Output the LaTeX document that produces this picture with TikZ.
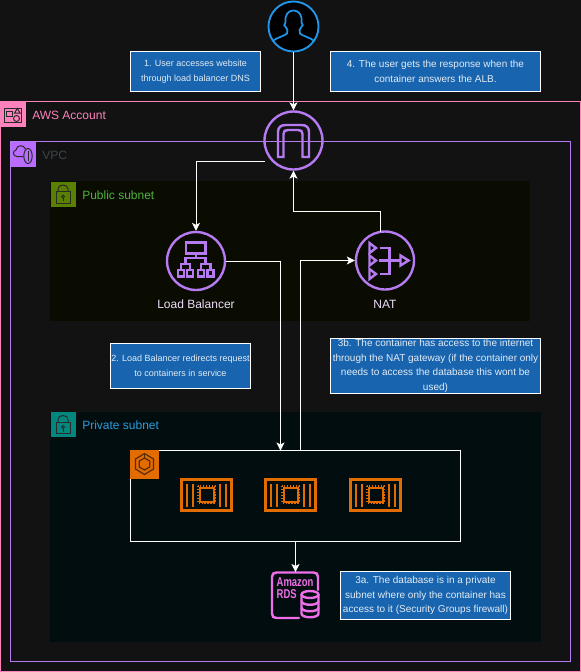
\documentclass[tikz,border=0pt]{standalone}
\usepackage{fontspec}
\setmainfont{Liberation Sans}
\usetikzlibrary{arrows.meta}
\definecolor{bgdark}{HTML}{121212}
\definecolor{pubfill}{HTML}{0A0C02}
\definecolor{privfill}{HTML}{010D0F}
\definecolor{acctpink}{HTML}{FF82BC}
\definecolor{vpcpurple}{HTML}{B67BF2}
\definecolor{vpctile}{HTML}{B96CFF}
\definecolor{vpctext}{HTML}{3A474B}
\definecolor{pubtile}{HTML}{5A8000}
\definecolor{pubtext}{HTML}{4DB33D}
\definecolor{privtile}{HTML}{00887F}
\definecolor{privtext}{HTML}{2D9CDB}
\definecolor{userblue}{HTML}{2196E8}
\definecolor{notefill}{HTML}{1864AE}
\definecolor{ecsorange}{HTML}{E36C00}
\definecolor{rdspink}{HTML}{EE6FE8}
\definecolor{glyphdark}{HTML}{2A2A2A}
\tikzset{
  flowline/.style={draw=white,line width=.75pt,-{Stealth[length=6pt,width=6pt,inset=1.5pt]}},
  notebox/.style={draw=white,fill=notefill,line width=.75pt,inner sep=0pt,outer sep=0pt,align=center,text=white!88!notefill,font=\fontsize{6.75pt}{11pt}\selectfont},
  bignote/.style={notebox,font=\fontsize{7.5pt}{11pt}\selectfont},
  roundicon/.style={circle,draw=vpcpurple,line width=1.8pt,inner sep=0pt,minimum size=43.5pt},
  glyph/.style={draw=vpcpurple,line width=1.8pt},
  taskline/.style={draw=ecsorange,line width=1.5pt},
  rdsline/.style={draw=rdspink,line width=1.8pt},
  rdstext/.style={anchor=west,inner sep=0pt,xscale=.74,text=rdspink,font=\bfseries\fontsize{9.6pt}{10pt}\selectfont},
  grouplabel/.style={anchor=west,inner sep=0pt,font=\fontsize{9pt}{11pt}\selectfont},
  iconlabel/.style={inner sep=0pt,text=white!75!vpcpurple,font=\fontsize{9pt}{11pt}\selectfont},
  tileglyph/.style={draw=glyphdark,line width=.75pt}
}
\begin{document}
\begin{tikzpicture}[x=.75pt,y=-.75pt]
  \useasboundingbox (0,0) rectangle (581,672);
  \fill[bgdark] (0,0) rectangle (581,672);

  % Subnets
  \fill[pubfill] (50,181) rectangle (530,321);
  \fill[privfill] (50,412) rectangle (540.5,641.5);

  % Frames
  \draw[acctpink,line width=.75pt] (0.5,101.5) rectangle (580.5,671);
  \draw[vpcpurple,line width=.75pt] (10.5,141.5) rectangle (570.5,661);

  % Group tiles
  \fill[acctpink] (0,101) rectangle (25.5,126.5);
  \draw[tileglyph] (4.7,108) rectangle (21.3,122.3);
  \draw[tileglyph] (6.7,111.7) rectangle (12,116.7);
  \draw[tileglyph] (17.3,108.4) -- (20,113) -- (14.6,113) -- cycle;
  \draw[tileglyph] (16.5,118.5) circle (3*.75pt);

  \fill[vpctile] (10.5,141.5) rectangle (35.5,166.5);
  \draw[tileglyph] (23,156.5) -- (17,156.5) .. controls (12.5,156.5) and (12.5,150.5) .. (16,150) .. controls (16.5,144.5) and (24,144.5) .. (25.5,149);
  \draw[tileglyph] (28,156) ellipse (4.2*.75pt and 7.5*.75pt);
  \draw[tileglyph] (28,151) -- (28,161);

  \fill[pubtile] (50.5,181.5) rectangle (75.5,206.5);
  \draw[tileglyph] (56,191.7) rectangle (70,203.3);
  \draw[tileglyph] (58,191.7) -- (58,189) .. controls (58,183.7) and (68,183.7) .. (68,189) -- (68,191.7);
  \draw[tileglyph] (63,196.5) circle (1.5*.75pt);
  \draw[tileglyph] (63,198) -- (63,201);

  \fill[privtile] (50.5,412) rectangle (75.5,437);
  \draw[tileglyph] (56,422.2) rectangle (70,433.8);
  \draw[tileglyph] (58,422.2) -- (58,419.5) .. controls (58,414.2) and (68,414.2) .. (68,419.5) -- (68,422.2);
  \draw[tileglyph] (63,427) circle (1.5*.75pt);
  \draw[tileglyph] (63,428.5) -- (63,431.5);

  % Group labels
  \node[grouplabel,text=acctpink] (acctlabel) at (32,115) {AWS Account};
  \node[grouplabel,text=vpctext] (vpclabel) at (42,155) {VPC};
  \node[grouplabel,text=pubtext] (publabel) at (82,195) {Public subnet};
  \node[grouplabel,text=privtext] (privlabel) at (82,425) {Private subnet};

  % Main nodes
  \node[circle,draw=userblue,fill=black,line width=1.4pt,inner sep=0pt,minimum size=37.5pt] (user) at (293.5,26.5) {};
  \node[roundicon] (igw) at (293.5,140.5) {};
  \node[roundicon] (lb) at (196,261) {};
  \node[roundicon] (nat) at (385,260.5) {};
  \node[draw=white,line width=.75pt,inner sep=0pt,outer sep=0pt,minimum width=247.5pt,minimum height=68.25pt] (ecs) at (295.5,496) {};
  \node[inner sep=0pt,outer sep=0pt,minimum width=35pt,minimum height=34.5pt] (rds) at (295.5,595) {};
  \node[iconlabel] (lblabel) at (196,304) {Load Balancer};
  \node[iconlabel] (natlabel) at (385,304) {NAT};

  % User glyph
  \draw[userblue,line width=1.3pt] (272.5,41) .. controls (278,37) and (284.5,36) .. (287,33.5) .. controls (288,31) and (287.5,29) .. (286,27.5) .. controls (284,27) and (283.5,23.5) .. (285.5,22.5) .. controls (284.5,14.5) and (288.5,10.5) .. (293.5,10.5) .. controls (298.5,10.5) and (302.5,14.5) .. (301.5,22.5) .. controls (303.5,23.5) and (303,27) .. (301,27.5) .. controls (299.5,29) and (299,31) .. (300,33.5) .. controls (302.5,36) and (309,37) .. (314.5,41);

  % Gateway glyph
  \draw[glyph] (278,157) -- (278,132) .. controls (278,127) and (281,125) .. (286,125) -- (301,125) .. controls (306,125) and (309,127) .. (309,132) -- (309,157) -- (302.5,157) -- (302.5,134) .. controls (302.5,131) and (301,130) .. (298,130) -- (288,130) .. controls (285,130) and (283.5,131) .. (283.5,134) -- (283.5,157) -- cycle;

  % Load balancer glyph
  \draw[glyph] (186,242.5) rectangle (205.5,253.5);
  \draw[glyph] (196,253.5) -- (196,258);
  \draw[glyph] (185.5,264) -- (185.5,258) -- (205.5,258) -- (205.5,264);
  \draw[glyph] (181,270) -- (181,264) -- (190,264) -- (190,270);
  \draw[glyph] (201,270) -- (201,264) -- (210.5,264) -- (210.5,270);
  \foreach \bx in {181,190,201,210.5}
    \draw[glyph] (\bx-3,270) rectangle (\bx+3,276.5);

  % NAT glyph
  \foreach \ty in {248,260.5,274}
    \draw[glyph] (369.5,\ty-5) -- (376,\ty) -- (369.5,\ty+5) -- cycle;
  \draw[glyph] (379.5,248) -- (389.5,248) -- (389.5,274) -- (379.5,274);
  \draw[glyph] (379,260.5) -- (400.5,260.5);
  \draw[glyph] (400.5,255.5) -- (408.5,260.5) -- (400.5,265.5) -- cycle;

  % Tasks
  \fill[ecsorange] (130,450) rectangle (158.5,478.5);
  \draw[black!60!ecsorange,line width=.9pt] (144.5,453.5) -- (153.5,459) -- (153.5,469) -- (144.5,474.5) -- (135.5,469) -- (135.5,459) -- cycle;
  \draw[black!60!ecsorange,line width=.9pt] (144.5,458) -- (149.7,461) -- (149.7,467) -- (144.5,470) -- (139.3,467) -- (139.3,461) -- cycle;
  \draw[black!60!ecsorange,line width=.9pt] (144.5,453.5) -- (144.5,458);
  \foreach \tx in {180.5,264.5,349.5}{
    \draw[ecsorange,line width=1.8pt] (\tx+1,479.5) rectangle (\tx+51,510.5);
    \foreach \bar in {6,12,39,45}
      \draw[taskline] (\tx+\bar,483.5) -- (\tx+\bar,506.5);
    \draw[taskline] (\tx+19,487.5) rectangle (\tx+33,501.5);
    \draw[ecsorange,line width=2pt,dash pattern=on 1.1pt off 1.1pt] (\tx+17.5,486) rectangle (\tx+34.5,503);
  }

  % RDS glyph
  \draw[rdsline,line cap=round] (318,590) -- (318,577) .. controls (318,574) and (316.5,572.5) .. (313.5,572.5) -- (276.5,572.5) .. controls (273.5,572.5) and (272,574) .. (272,577) -- (272,613.5) .. controls (272,616.5) and (273.5,618) .. (276.5,618) -- (299,618);
  \node[rdstext] (rdstop) at (276.5,581.7) {Amazon};
  \node[rdstext] (rdsname) at (276.5,594) {RDS};
  \draw[rdsline] (310,594.5) ellipse (8.5*.75pt and 3.5*.75pt);
  \draw[rdsline] (301.5,594.5) -- (301.5,613.5) .. controls (301.5,618.5) and (318.5,618.5) .. (318.5,613.5) -- (318.5,594.5);
  \draw[rdsline] (301.5,601) .. controls (301.5,606) and (318.5,606) .. (318.5,601);
  \draw[rdsline] (301.5,607.5) .. controls (301.5,612.5) and (318.5,612.5) .. (318.5,607.5);

  % Notes
  \node[notebox,minimum width=97.5pt,minimum height=30pt] (note1) at (195.5,71.5) {1. User accesses website\\through load balancer DNS};
  \node[bignote,minimum width=157.5pt,minimum height=30pt] (note4) at (435.5,71.5) {4. The user gets the response when the\\container answers the ALB.};
  \node[notebox,minimum width=105pt,minimum height=34pt] (note2) at (180.5,366) {2. Load Balancer redirects request\\to containers in service};
  \node[bignote,minimum width=157.5pt,minimum height=41.5pt] (note3b) at (435.5,366) {3b. The container has access to the internet\\through the NAT gateway (if the container only\\needs to access the database this wont be\\used)};
  \node[bignote,minimum width=127.5pt,minimum height=36pt] (note3a) at (425.5,595.5) {3a. The database is in a private\\subnet where only the container has\\access to it (Security Groups firewall)};

  % Connector ends
  \coordinate (igwout) at (265,161);
  \coordinate (igwin) at (293.5,211);
  \coordinate (natout) at (380.5,232);
  \coordinate (ecsin) at (280.5,450.5);
  \coordinate (ecsout) at (300.5,450.5);

  % Connectors
  \draw[flowline] (user) -- (igw);
  \draw[flowline] (igwout) -| (lb);
  \draw[flowline] (lb) -| (ecsin);
  \draw[flowline] (ecsout) |- (nat);
  \draw[flowline] (natout) |- (igwin) -- (igw);
  \draw[flowline] (ecs) -- (rds);
\end{tikzpicture}
\end{document}
